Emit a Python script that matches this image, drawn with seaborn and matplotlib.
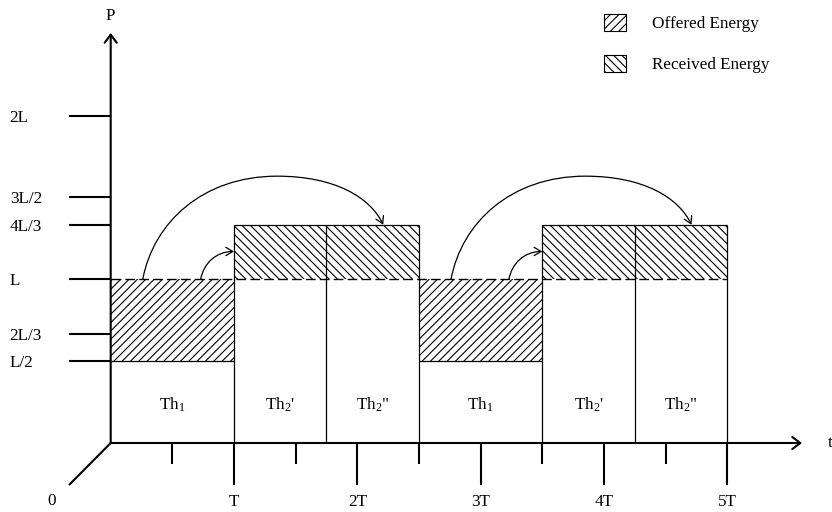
import matplotlib
matplotlib.use("Agg")
import matplotlib.pyplot as plt
import seaborn as sns
from matplotlib.patches import Patch, FancyArrowPatch
from matplotlib.path import Path

# ---------------- data ----------------
level_values = [0.5, 2 / 3, 1.0, 4 / 3, 1.5, 2.0]
level_labels = ["L/2", "2L/3", "L", "4L/3", "3L/2", "2L"]
time_major = [1, 2, 3, 4, 5]
time_major_labels = ["T", "2T", "3T", "4T", "5T"]
time_minor = [0.5, 1.5, 2.5, 3.5, 4.5]

slot_start = [0, 1, 1.75, 2.5, 3.5, 4.25]
slot_end = [1, 1.75, 2.5, 3.5, 4.25, 5]
slot_labels = ["Th$_1$", "Th$_2$'", 'Th$_2$"', "Th$_1$", "Th$_2$'", 'Th$_2$"']
energy_bottom = [0.5, 1, 1, 0.5, 1, 1]
energy_top = [1, 4 / 3, 4 / 3, 1, 4 / 3, 4 / 3]
energy_kind = ["Offered", "Received", "Received", "Offered", "Received", "Received"]
threshold = 1.0

# energy transfer arrows
arrow_x0 = [0.26, 0.73, 2.76, 3.23]
arrow_x1 = [2.21, 1.0, 4.71, 3.5]
arrow_y1 = [4 / 3, 1.17, 4 / 3, 1.17]
arrow_apex_x = [1.35, 1.0, 3.85, 3.5]
arrow_apex_y = [1.63, 1.17, 1.63, 1.17]

# ---------------- style ----------------
sns.set_theme(style="white")
plt.rcParams["font.family"] = ["Liberation Serif", "DejaVu Serif"]
plt.rcParams["mathtext.fontset"] = "custom"
plt.rcParams["mathtext.rm"] = "Liberation Serif"
plt.rcParams["mathtext.it"] = "Liberation Serif:italic"
plt.rcParams["text.color"] = "black"
plt.rcParams["xtick.color"] = "black"
plt.rcParams["ytick.color"] = "black"
plt.rcParams["hatch.linewidth"] = 0.8
FS = 12.3

fig = plt.figure(figsize=(8.32, 5.12), dpi=100)
ax = fig.add_axes([0, 0, 1, 1])
ax.set_xlim(-0.8978, 5.850)
ax.set_ylim(-0.4215, 2.7062)
ax.set_facecolor("white")

for s in ["top", "right"]:
    ax.spines[s].set_visible(False)
for s in ["left", "bottom"]:
    ax.spines[s].set_position(("data", 0))
    ax.spines[s].set_visible(False)

# ticks
ax.set_yticks(level_values, level_labels)
ax.tick_params(axis="y", left=True, direction="out", length=30.2, width=1.5,
               pad=42.5, labelsize=FS)
for lab in ax.get_yticklabels():
    lab.set_ha("left")
ax.set_xticks(time_major, time_major_labels)
ax.set_xticks(time_minor, minor=True)
ax.tick_params(axis="x", which="major", bottom=True, direction="out",
               length=30.2, width=1.5, pad=6.5, labelsize=FS)
ax.tick_params(axis="x", which="minor", bottom=True, direction="out",
               length=15.1, width=1.5)

# axis arrows
axis_style = dict(arrowstyle="->,head_length=0.4,head_width=0.3", lw=1.5,
                  color="black", shrinkA=0, shrinkB=0, mutation_scale=14.5)
ax.annotate("", xy=(0, 2.505), xytext=(0, 0), arrowprops=axis_style)
ax.annotate("", xy=(5.607, 0), xytext=(0, 0), arrowprops=axis_style)
depth_dx, depth_dy = -0.338, -0.2566
ax.plot([0, depth_dx], [0, depth_dy], color="black", lw=1.5,
        solid_capstyle="butt")
ax.text(0, 2.608, "P", ha="center", va="center", fontsize=FS)
ax.text(5.818, 0.0, "t", ha="left", va="center", fontsize=FS)
ax.text(-0.476, -0.354, "0", ha="center", va="center", fontsize=FS)

# hatched energy regions
hatches = {"Offered": "////", "Received": "\\\\\\\\"}
for kind in ["Offered", "Received"]:
    idx = [i for i, k in enumerate(energy_kind) if k == kind]
    ax.bar([slot_start[i] for i in idx],
           [energy_top[i] - energy_bottom[i] for i in idx],
           width=[slot_end[i] - slot_start[i] for i in idx],
           bottom=[energy_bottom[i] for i in idx], align="edge",
           facecolor="none", edgecolor="black", linewidth=0,
           hatch=hatches[kind], zorder=2)

# solid edges that are not the threshold
for i in range(len(slot_start)):
    y = energy_bottom[i] if energy_top[i] == threshold else energy_top[i]
    ax.hlines(y, slot_start[i], slot_end[i], colors="black", lw=0.9, zorder=3)

# slot boundaries
bounds = sorted(set(slot_start + slot_end) - {0})
for b in bounds:
    top = max(energy_top[i] for i in range(len(slot_start))
              if slot_start[i] == b or slot_end[i] == b)
    ax.vlines(b, 0, top, colors="black", lw=0.9, zorder=3)

# threshold dashed line
sns.lineplot(x=[0, slot_end[-1]], y=[threshold, threshold], ax=ax,
             color="black", lw=1.0, dashes=False, linestyle=(0, (7, 3)),
             zorder=3)

# slot labels
for i in range(len(slot_start)):
    ax.text((slot_start[i] + slot_end[i]) / 2, 0.232, slot_labels[i],
            ha="center", va="center", fontsize=FS)

# curved transfer arrows
k = 0.5523
for x0, x1, y1, axp, ayp in zip(arrow_x0, arrow_x1, arrow_y1,
                                arrow_apex_x, arrow_apex_y):
    y0 = threshold
    verts = [(x0, y0),
             (x0 + 0.08 * (axp - x0), y0 + k * (ayp - y0)),
             (axp - k * (axp - x0), ayp),
             (axp, ayp)]
    codes = [Path.MOVETO, Path.CURVE4, Path.CURVE4, Path.CURVE4]
    if x1 > axp + 1e-9:
        verts += [(axp + k * (x1 - axp), ayp),
                  (x1 - 0.12 * (x1 - axp), y1 + k * (ayp - y1)),
                  (x1, y1)]
        codes += [Path.CURVE4, Path.CURVE4, Path.CURVE4]
    arr = FancyArrowPatch(path=Path(verts, codes),
                          arrowstyle="->,head_length=0.5,head_width=0.3",
                          mutation_scale=10, lw=0.9, color="black", zorder=4)
    ax.add_patch(arr)

# legend
handles = [Patch(facecolor="white", edgecolor="black", hatch="////", lw=0.8,
                 label="Offered Energy"),
           Patch(facecolor="white", edgecolor="black", hatch="\\\\\\\\", lw=0.8,
                 label="Received Energy")]
ax.legend(handles=handles, loc="upper left",
          bbox_to_anchor=(604 / 832, 1 - 14 / 512),
          bbox_transform=fig.transFigure, frameon=False, borderpad=0,
          borderaxespad=0, handlelength=1.29, handleheight=1.17,
          handletextpad=1.52, labelspacing=1.3, fontsize=FS)

fig.savefig("out.png", dpi=100)
